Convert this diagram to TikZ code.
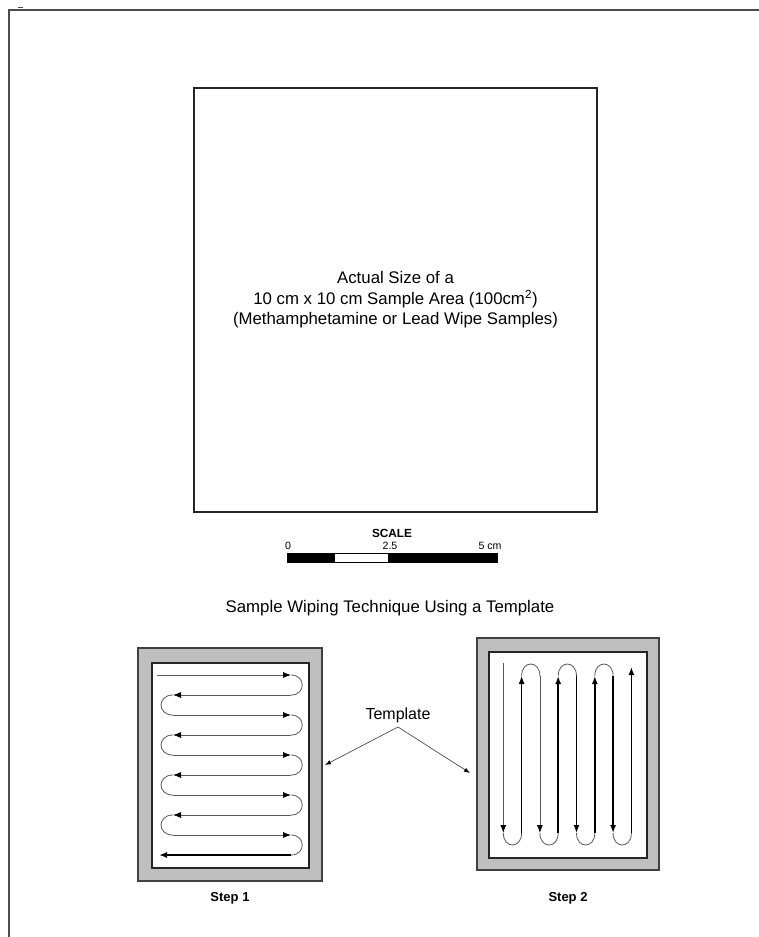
\documentclass[tikz,border=0pt]{standalone}
\usepackage{fontspec}
\setmainfont{Liberation Sans}
\usetikzlibrary{positioning, arrows.meta}

\begin{document}
\begin{tikzpicture}[
        x=1pt, y=-1pt,
        every node/.style={inner sep=0pt, outer sep=0pt},
        rule/.style={draw=black!70, line width=1.3pt},
        sheet/.style={rectangle, draw=black!85, line width=1.2pt, minimum width=403, minimum height=424},
        tplframe/.style={rectangle, draw=black!75, fill=black!25, line width=1.2pt},
        tplfield/.style={rectangle, draw=black!85, fill=white, line width=1.2pt},
        wipe/.style={draw=black!65, line width=0.8pt},
        wipetip/.style={-{Latex[length=8pt, width=6pt, color=black]}},
        pointer/.style={draw=black!70, line width=0.7pt, -{Latex[length=6pt, width=4.5pt, color=black]}},
        maintext/.style={font=\fontsize{16.8}{20.5}\selectfont, align=center},
        scaletext/.style={font=\fontsize{10.6}{12}\selectfont, anchor=base},
        steptext/.style={font=\fontsize{13}{15}\selectfont\bfseries}
    ]
        \useasboundingbox (0,0) rectangle (759,937);
        % Page rules
        \draw[rule] (759,10) -- (9,10) -- (9,937);
        \draw[black!70, line width=0.8pt] (18,7) -- (23,7);
        % Sample area
        \node[sheet] (area) at (395.5,300) {};
        \node[maintext] (areatext) at (area.center) {Actual Size of a\\10 cm x 10 cm Sample Area (100cm\textsuperscript{2})\\(Methamphetamine or Lead Wipe Samples)};
        % Scale bar
        \node[font=\fontsize{11.8}{13}\selectfont\bfseries, anchor=base] (scale) at (392,537) {SCALE};
        \node[scaletext] (s0) at (288,549) {0};
        \node[scaletext] (s25) at (390,549) {2.5};
        \node[scaletext] (s5) at (490,549) {5 cm};
        \fill[black] (287,553) rectangle (335,562);
        \fill[white] (335,553) rectangle (388,562);
        \fill[black] (388,553) rectangle (497,562);
        \draw[black, line width=0.8pt] (287,553) rectangle (497,562);
        % Technique title
        \node[font=\fontsize{16.8}{20}\selectfont, anchor=base] (title) at (390,612) {Sample Wiping Technique Using a Template};
        % Step 1 template
        \node[tplframe, minimum width=184, minimum height=233] (tplA) at (230,764.5) {};
        \node[tplfield, minimum width=157, minimum height=205] (fieldA) at (230.5,765.5) {};
        \foreach \k in {0,2,4,6,8} {
            \pgfmathsetmacro{\ya}{675+20*\k}
            \pgfmathsetmacro{\yb}{\ya+20}
            \pgfmathsetmacro{\xa}{\k==0 ? 157 : 173}
            \draw[wipe, wipetip] (\xa,\ya) -- (291,\ya);
            \draw[wipe] (291,\ya) .. controls (306,\ya) and (306,\yb) .. (291,\yb);
        }
        \foreach \k in {1,3,5,7} {
            \pgfmathsetmacro{\ya}{675+20*\k}
            \pgfmathsetmacro{\yb}{\ya+20}
            \draw[wipe, wipetip] (291,\ya) -- (173,\ya);
            \draw[wipe] (173,\ya) .. controls (157,\ya) and (157,\yb) .. (173,\yb);
        }
        \draw[black, line width=1.5pt, wipetip] (291,855) -- (159,855);
        \node[steptext, below=11pt of tplA] (step1) {Step 1};
        % Step 2 template
        \node[tplframe, minimum width=182, minimum height=232] (tplB) at (568,754) {};
        \node[tplfield, minimum width=158, minimum height=206] (fieldB) at (568,755) {};
        \foreach \j/\lw/\col in {0/0.8/black!65, 2/0.8/black!65, 4/1.5/black, 6/1.5/black} {
            \pgfmathsetmacro{\xa}{503.3+18.3*\j}
            \pgfmathsetmacro{\xb}{\xa+18.3}
            \pgfmathsetmacro{\yt}{\j==0 ? 663 : 676}
            \draw[draw=\col, line width=\lw pt, wipetip] (\xa,\yt) -- (\xa,833);
            \draw[wipe] (\xa,833) .. controls (\xa,849) and (\xb,849) .. (\xb,833);
        }
        \foreach \j/\lw in {1/1.1, 3/1.5, 5/1.4} {
            \pgfmathsetmacro{\xa}{503.3+18.3*\j}
            \pgfmathsetmacro{\xb}{\xa+18.3}
            \draw[black, line width=\lw pt, wipetip] (\xa,833) -- (\xa,676);
            \draw[wipe] (\xa,676) .. controls (\xa,660) and (\xb,660) .. (\xb,676);
        }
        \draw[black, line width=1.5pt, wipetip] (631.4,833) -- (631.4,667);
        \node[steptext] (step2) at (tplB.center |- step1) {Step 2};
        % Template pointers
        \node[font=\fontsize{16}{18}\selectfont, anchor=base] (tmpl) at (398,719) {Template};
        \coordinate (apex) at (398,727);
        \coordinate (ptA) at (325,765);
        \coordinate (ptB) at (470,773);
        \draw[pointer] (apex) -- (ptA);
        \draw[pointer] (apex) -- (ptB);
    \end{tikzpicture}
\end{document}
